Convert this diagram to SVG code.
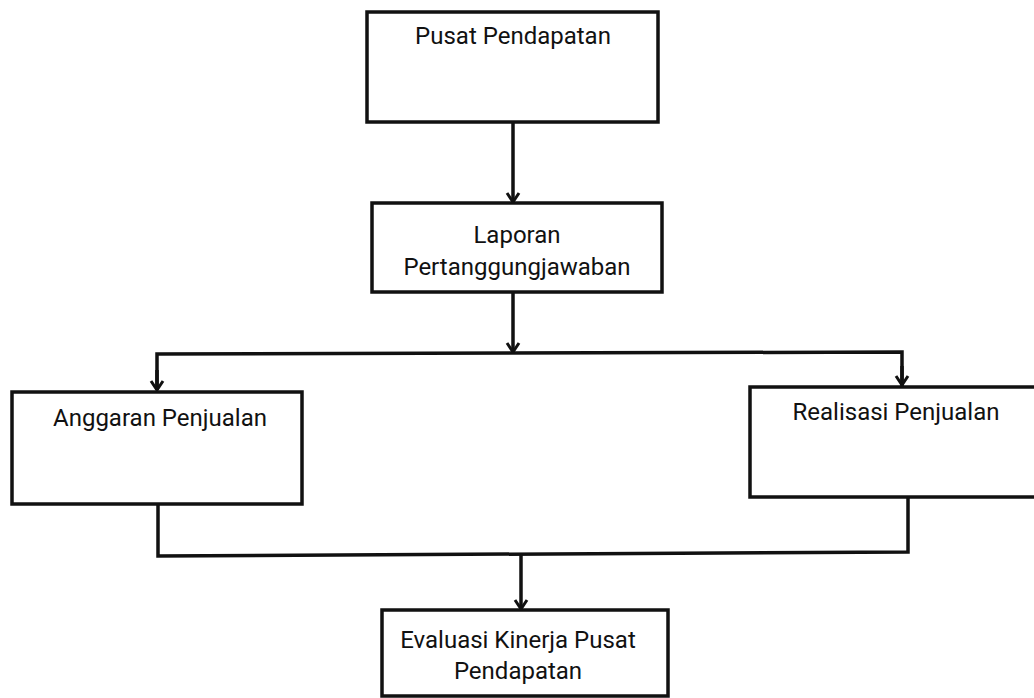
<svg xmlns="http://www.w3.org/2000/svg" width="1034" height="698" viewBox="0 0 1034 698">
<style>
.box{fill:#fff;stroke:#111;stroke-width:3.5}
.t{font-family:Roboto,"Liberation Sans",sans-serif;font-size:24px;fill:#111;text-anchor:middle}
.c{fill:none;stroke:#111;stroke-width:3.5}
</style>
<defs>
<marker id="ah" viewBox="0 0 14 16" refX="12" refY="8" markerWidth="14" markerHeight="16" markerUnits="userSpaceOnUse" orient="auto">
<polyline points="3,2 12,8 3,14" fill="none" stroke="#111" stroke-width="3"/>
</marker>
</defs>
<rect width="1034" height="698" fill="#fff"/>
<g id="connectors">
<line class="c" x1="513" y1="122" x2="513" y2="202" marker-end="url(#ah)"/>
<line class="c" x1="513" y1="292" x2="513" y2="352" marker-end="url(#ah)"/>
<polyline class="c" points="157,390 157,354 902,352 902,386"/>
<line class="c" x1="157" y1="370" x2="157" y2="390" marker-end="url(#ah)"/>
<line class="c" x1="902" y1="366" x2="902" y2="385" marker-end="url(#ah)"/>
<polyline class="c" points="158,504 158,556 908,552 908,497"/>
<line class="c" x1="521" y1="554" x2="521" y2="609" marker-end="url(#ah)"/>
</g>
<g id="n1"><rect class="box" x="367" y="12" width="291" height="110"/><text class="t" x="513" y="44">Pusat Pendapatan</text></g>
<g id="n2"><rect class="box" x="372" y="203" width="290" height="89"/><text class="t" x="517" y="243">Laporan</text><text class="t" x="517" y="275">Pertanggungjawaban</text></g>
<g id="n3"><rect class="box" x="12" y="392" width="290" height="112"/><text class="t" x="160" y="426">Anggaran Penjualan</text></g>
<g id="n4"><rect class="box" x="750" y="387" width="290" height="110"/><text class="t" x="896" y="420">Realisasi Penjualan</text></g>
<g id="n5"><rect class="box" x="382" y="610" width="286" height="86"/><text class="t" x="518" y="648">Evaluasi Kinerja Pusat</text><text class="t" x="518" y="679">Pendapatan</text></g>
</svg>
